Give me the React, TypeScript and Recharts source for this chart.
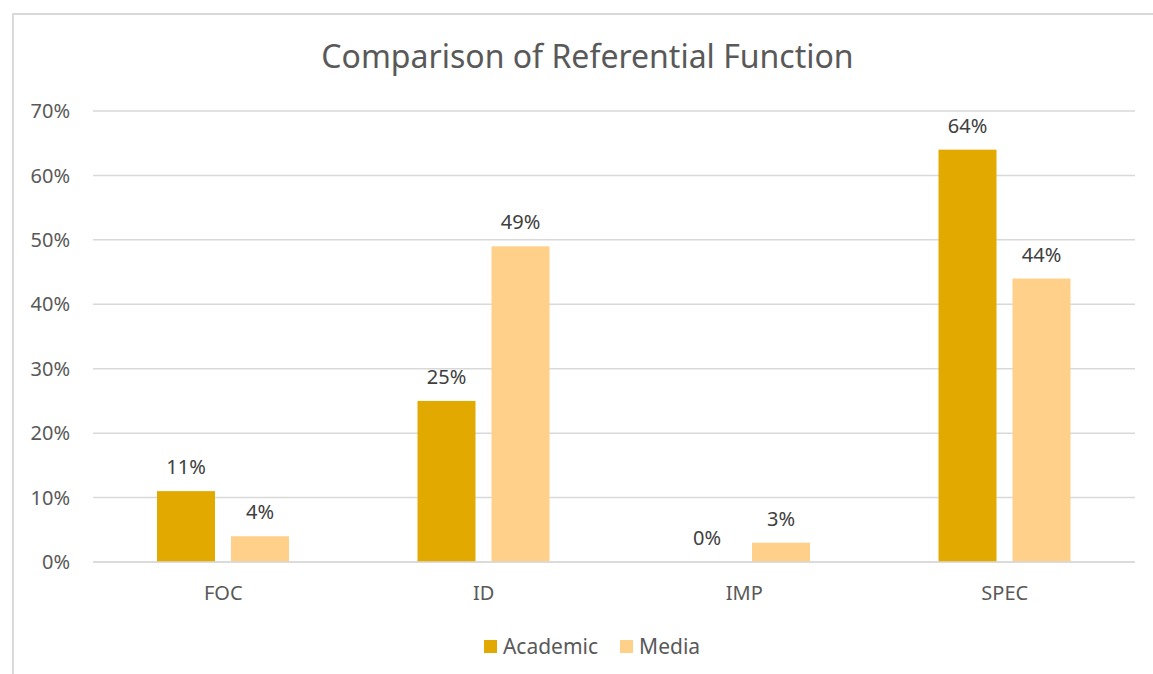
import { Bar, BarChart, CartesianGrid, XAxis, YAxis } from "recharts";

const categories = ["FOC", "ID", "IMP", "SPEC"];
const academic = [11, 25, 0, 64];
const media = [4, 49, 3, 44];
const yTicks = [0, 10, 20, 30, 40, 50, 60, 70];

const data = categories.map((name, i) => ({ name, academic: academic[i], media: media[i] }));

const FONT = "'Noto Sans', 'Open Sans', sans-serif";
const ACADEMIC = "#E2AA00";
const MEDIA = "#FFD08A";

// bar plus its value label; drawn through shape so the 0% bar still gets a label
function BarWithLabel(props: any) {
  const { x, y, width, height, fill, value } = props;
  const v = Array.isArray(value) ? value[1] - value[0] : value;
  return (
    <g>
      {height > 0 && <rect x={x} y={y} width={width} height={height} fill={fill} />}
      <text
        x={Number(x) + Number(width) / 2}
        y={Number(y) - 17}
        textAnchor="middle"
        fontSize={20}
        fill="#404040"
        fontFamily={FONT}
      >
        {`${v}%`}
      </text>
    </g>
  );
}

function LegendBox() {
  const items = [
    { label: "Academic", color: ACADEMIC },
    { label: "Media", color: MEDIA },
  ];
  return (
    <div
      style={{
        position: "absolute",
        left: 0,
        width: 1184,
        top: 632,
        display: "flex",
        justifyContent: "center",
        gap: 22,
        fontFamily: FONT,
        fontSize: 21,
        color: "#595959",
      }}
    >
      {items.map((it) => (
        <div key={it.label} style={{ display: "flex", alignItems: "center", gap: 6 }}>
          <span style={{ width: 13, height: 13, background: it.color, display: "inline-block" }} />
          <span>{it.label}</span>
        </div>
      ))}
    </div>
  );
}

export default function App() {
  return (
    <div style={{ position: "absolute", left: 0, top: 0, width: 1153, height: 674, background: "#fff", overflow: "hidden" }}>
      <div
        style={{
          position: "absolute",
          left: 12,
          top: 13,
          width: 1200,
          height: 700,
          borderLeft: "2px solid #d9d9d9",
          borderTop: "2px solid #d9d9d9",
          boxSizing: "border-box",
        }}
      />
      <div
        style={{
          position: "absolute",
          left: 0,
          width: 1175,
          top: 34,
          textAlign: "center",
          fontFamily: FONT,
          fontSize: 32,
          color: "#595959",
        }}
      >
        Comparison of Referential Function
      </div>
      <BarChart
        width={1153}
        height={674}
        data={data}
        margin={{ top: 111, right: 18, left: 0, bottom: 40 }}
        barCategoryGap={64}
        barGap={16}
        style={{ position: "absolute", left: 0, top: 0, fontFamily: FONT }}
      >
        <CartesianGrid stroke="#d9d9d9" strokeWidth={1.5} vertical={false} />
        <XAxis
          dataKey="name"
          height={72}
          axisLine={{ stroke: "#d9d9d9", strokeWidth: 1.5 }}
          tickLine={false}
          tickSize={0}
          tickMargin={24}
          tick={{ fontSize: 20, fill: "#595959" }}
        />
        <YAxis
          domain={[0, 70]}
          ticks={yTicks}
          tickFormatter={(v: number) => `${v}%`}
          axisLine={false}
          tickLine={false}
          tickSize={0}
          tickMargin={23}
          width={93}
          tick={{ fontSize: 20, fill: "#595959" }}
        />
        <Bar dataKey="academic" name="Academic" fill={ACADEMIC} shape={<BarWithLabel />} isAnimationActive={false} />
        <Bar dataKey="media" name="Media" fill={MEDIA} shape={<BarWithLabel />} isAnimationActive={false} />
      </BarChart>
      <LegendBox />
    </div>
  );
}
